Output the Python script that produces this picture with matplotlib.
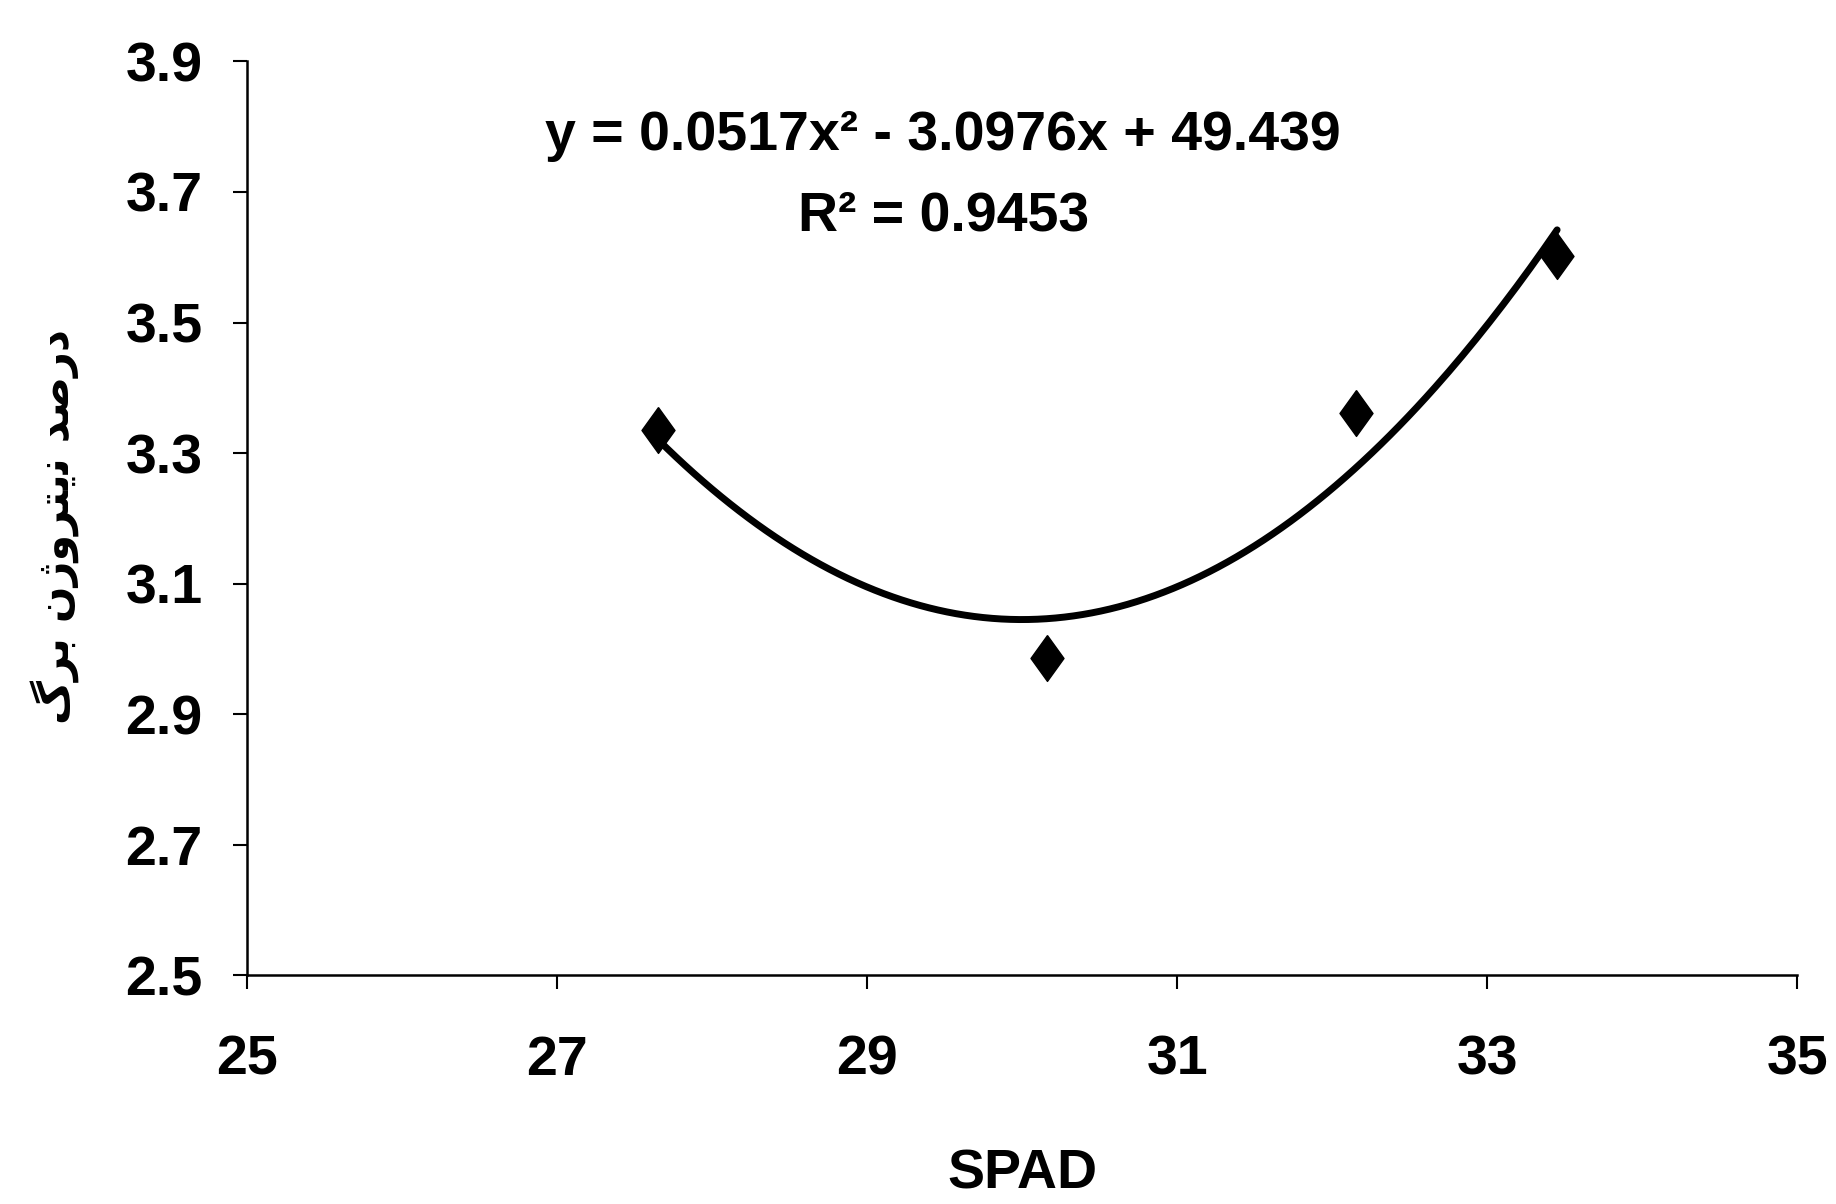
import numpy as np
import matplotlib
matplotlib.use("Agg")
import matplotlib.pyplot as plt

# SPAD readings and leaf nitrogen percent
spad = [27.65, 30.16, 32.15, 33.45]
leaf_n = [3.336, 2.986, 3.362, 3.602]

x_ticks = [25, 27, 29, 31, 33, 35]
y_ticks = [2.5, 2.7, 2.9, 3.1, 3.3, 3.5, 3.7, 3.9]

eq_line = "y = 0.0517x\u00b2 - 3.0976x + 49.439"
r2_line = "R\u00b2 = 0.9453"

# "درصد نیتروژن برگ" pre-shaped (presentation forms, visual order)
ylabel_logical = "\uFEA9\uFEAD\uFEBB\uFEAA \uFEE7\uFBFE\uFE98\uFEAE\uFEED\uFB8A\uFEE5 \uFE91\uFEAE\uFB92"
ylabel = ylabel_logical[::-1]

plt.rcParams["font.family"] = ["Liberation Sans", "DejaVu Sans"]
plt.rcParams["font.weight"] = "bold"

fig = plt.figure(figsize=(18.36, 12.04), dpi=100)
ax = fig.add_axes([0.1345, 0.19, 0.8445, 0.759])

coef = np.polyfit(spad, leaf_n, 2)
xs = np.linspace(min(spad), max(spad), 200)
ax.plot(xs, np.polyval(coef, xs), color="black", lw=5, zorder=2,
        solid_capstyle="round")
diamond = [(0, 1), (0.72, 0), (0, -1), (-0.72, 0), (0, 1)]
ax.plot(spad, leaf_n, linestyle="none", marker=diamond, color="black",
        markersize=33, zorder=3)

ax.set_xlim(25, 35)
ax.set_ylim(2.5, 3.9)
ax.set_xticks(x_ticks)
ax.set_yticks(y_ticks)
ax.set_xticklabels([str(t) for t in x_ticks])
ax.set_yticklabels([f"{t:.1f}" for t in y_ticks])
ax.tick_params(axis="x", direction="out", length=10, width=1.5, pad=33, labelsize=40)
ax.tick_params(axis="y", direction="out", length=10, width=1.5, pad=22, labelsize=40)

for s in ["top", "right"]:
    ax.spines[s].set_visible(False)
for s in ["left", "bottom"]:
    ax.spines[s].set_linewidth(1.8)

ax.text(0.449, 0.9026, eq_line, transform=ax.transAxes, ha="center",
        va="baseline", fontsize=40, fontweight="bold")
ax.text(0.449, 0.815, r2_line, transform=ax.transAxes, ha="center",
        va="baseline", fontsize=40, fontweight="bold")

fig.text(0.557, 0.013, "SPAD", ha="center", va="baseline", fontsize=40,
         fontweight="bold")
fig.text(0.03, 0.563, ylabel, rotation=90, ha="center", va="center",
         fontsize=31, fontweight="bold", family=["DejaVu Sans"])

fig.savefig("out.png", dpi=100)
plt.close(fig)
